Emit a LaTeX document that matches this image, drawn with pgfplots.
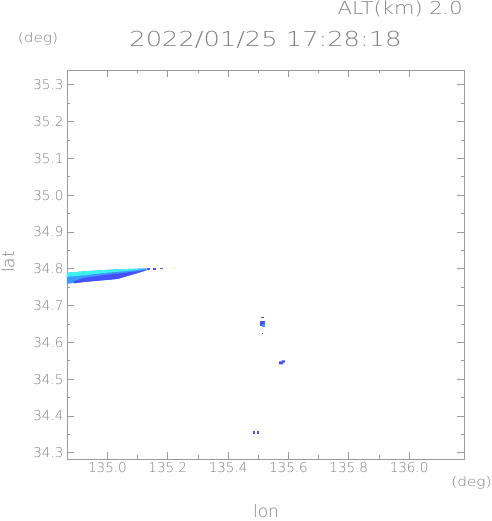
\documentclass[border=0pt]{standalone}
\usepackage{fontspec}
\setmainfont{DejaVu Sans ExtraLight}
\newfontfamily\titlefont[FakeStretch=1.25]{DejaVu Sans ExtraLight}
\newfontfamily\altfont[FakeStretch=1.18]{DejaVu Sans ExtraLight}
\usepackage{pgfplots}
\pgfplotsset{compat=1.18}
\definecolor{axgray}{HTML}{9A9A9A}
\definecolor{txtgray}{HTML}{7F7F7F}
\definecolor{ecyan}{HTML}{3CF2EE}
\definecolor{emid}{HTML}{3A9AFF}
\definecolor{eblue}{HTML}{4650FF}
\begin{document}
\begin{tikzpicture}
\begin{axis}[
  name=ax, at={(0,0)}, anchor=south west,
  scale only axis, width=397pt, height=389pt,
  xmin=134.866, xmax=136.182, ymin=34.283, ymax=35.34,
  xtick={135.0,135.2,135.4,135.6,135.8,136.0},
  ytick={34.3,34.4,34.5,34.6,34.7,34.8,34.9,35.0,35.1,35.2,35.3},
  minor x tick num=1, minor y tick num=1,
  tick align=inside, xtick pos=both, ytick pos=both,
  major tick length=7pt, minor tick length=3.5pt,
  axis line style={axgray, line width=0.7pt},
  every tick/.style={axgray, line width=0.7pt},
  /pgf/number format/assume math mode=true,
  xticklabel style={/pgf/number format/fixed, /pgf/number format/precision=1, /pgf/number format/fixed zerofill, /pgf/number format/1000 sep={}, font=\fontsize{13.5}{16}\selectfont, text=txtgray},
  yticklabel style={/pgf/number format/fixed, /pgf/number format/precision=1, /pgf/number format/fixed zerofill, font=\fontsize{13.5}{16}\selectfont, text=txtgray},
  scaled ticks=false,
  clip=true,
]
% main echo band (overall, mid blue)
\addplot[fill=emid, draw=none] coordinates {
(134.866,34.789) (134.922,34.793) (135.022,34.798) (135.091,34.800) (135.130,34.801)
(135.130,34.796) (135.091,34.786) (135.032,34.772) (134.922,34.764) (134.866,34.759)};
% cyan upper part
\addplot[fill=ecyan, draw=none] coordinates {
(134.866,34.789) (134.922,34.793) (135.022,34.798) (135.091,34.800) (135.120,34.800)
(135.090,34.796) (135.022,34.791) (134.975,34.787) (134.922,34.782) (134.866,34.778)};
% dark blue lower-right part
\addplot[fill=eblue, draw=none] coordinates {
(134.889,34.766) (134.922,34.775) (134.975,34.781) (135.022,34.786) (135.091,34.792) (135.130,34.797)
(135.130,34.796) (135.091,34.786) (135.032,34.772) (134.922,34.764) (134.889,34.760)};
% small blocks at band tip
\addplot[fill=eblue, draw=none] coordinates {(135.131,34.797) (135.141,34.797) (135.141,34.801) (135.131,34.801)};
\addplot[fill=eblue, draw=none] coordinates {(135.150,34.797) (135.161,34.797) (135.161,34.801) (135.150,34.801)};
\addplot[fill=eblue, draw=none] coordinates {(135.174,34.798) (135.183,34.798) (135.183,34.801) (135.174,34.801)};
% isolated echoes
\addplot[fill=eblue, draw=none] coordinates {(135.506,34.644) (135.522,34.644) (135.522,34.658) (135.506,34.658)};
\addplot[fill=emid, draw=none] coordinates {(135.512,34.642) (135.522,34.642) (135.522,34.651) (135.512,34.651)};
\addplot[fill=eblue, draw=none] coordinates {(135.509,34.665) (135.519,34.665) (135.519,34.668) (135.509,34.668)};
\addplot[fill=eblue, draw=none] coordinates {(135.512,34.622) (135.516,34.622) (135.516,34.625) (135.512,34.625)};
\addplot[fill=eblue, draw=none] coordinates {(135.569,34.540) (135.582,34.540) (135.582,34.545) (135.589,34.545) (135.589,34.551) (135.578,34.551) (135.578,34.548) (135.569,34.548)};
\addplot[fill=eblue, draw=none] coordinates {(135.484,34.352) (135.489,34.352) (135.489,34.359) (135.484,34.359)};
\addplot[fill=eblue, draw=none] coordinates {(135.496,34.352) (135.501,34.352) (135.501,34.359) (135.496,34.359)};
\end{axis}
\begin{scope}[every node/.style={text=txtgray, inner sep=0pt}]
\node[anchor=east] at (396pt,450.5pt) {\altfont\fontsize{17.8}{20}\selectfont ALT(km) 2.0};
\node at (198.5pt,419.5pt) {\titlefont\fontsize{20.6}{24}\selectfont 2022/01/25 17:28:18};
\node at (-29pt,420pt) {\altfont\fontsize{13}{15}\selectfont (deg)};
\node at (404.5pt,-24pt) {\altfont\fontsize{13}{15}\selectfont (deg)};
\node at (199pt,-52pt) {\fontsize{17}{20}\selectfont lon};
\node[rotate=90] at (-59pt,197pt) {\fontsize{17}{20}\selectfont lat};
\end{scope}
\pgfresetboundingbox
\path[use as bounding box] (-67pt,-62pt) rectangle (424pt,459pt);
\end{tikzpicture}
\end{document}
